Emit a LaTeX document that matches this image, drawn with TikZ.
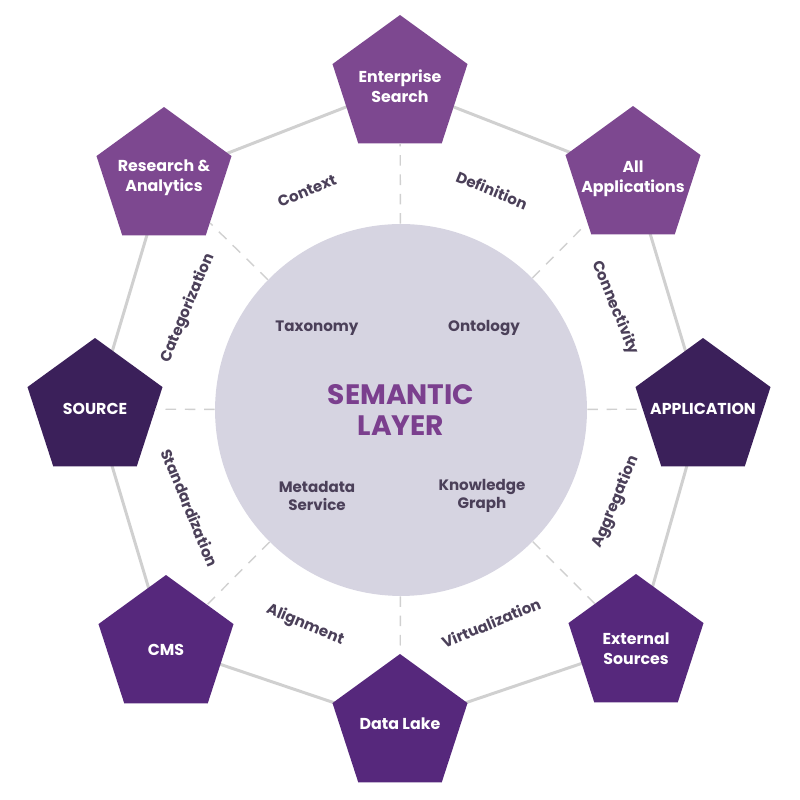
\documentclass[tikz,border=0pt]{standalone}
\usepackage{fontspec}
\setmainfont{Poppins}
\usetikzlibrary{shapes.geometric,backgrounds}

\definecolor{lightPurple}{HTML}{7D4890}
\definecolor{darkPurple}{HTML}{3B205A}
\definecolor{midPurple}{HTML}{56287C}
\definecolor{layerFill}{HTML}{D6D4E1}
\definecolor{labelGray}{HTML}{4B4059}
\definecolor{titlePurple}{HTML}{7B3F8E}
\definecolor{ringGray}{HTML}{D0D0D0}

\begin{document}
\begin{tikzpicture}[x=0.02cm,y=0.02cm,
	    PentBlock/.style= {
	        regular polygon, regular polygon sides=5,
	        minimum size=2.84cm, inner sep=0pt},
	    PentText/.style= {
	        text=white, align=center, inner sep=0pt,
	        font=\fontsize{9}{11.5}\selectfont\bfseries},
	    LayerCircle/.style= {
	        circle, fill=layerFill, minimum size=7.44cm, inner sep=0pt},
	    ArcLabel/.style= {
	        text=labelGray, font=\fontsize{8.6}{10}\selectfont\bfseries},
	    InnerLabel/.style= {
	        text=labelGray, align=center,
	        font=\fontsize{8.6}{10}\selectfont\bfseries},
	    RingLine/.style= {draw=ringGray, line width=1.7pt},
	    SpokeLine/.style= {draw=ringGray, line width=0.8pt,
	        dash pattern=on 6pt off 5pt}]

		\useasboundingbox (0,0) rectangle (800,800);

		% Semantic layer
		\node [LayerCircle] (sem) at (401,390) {};
		\node [text=titlePurple, align=center,
		       font=\fontsize{16}{17.5}\selectfont\bfseries] (title) at (sem) {SEMANTIC\\LAYER};

		% Blocks
		\node [PentBlock,fill=lightPurple] (ent) at (400,714) {};
		\node [PentBlock,fill=lightPurple] (allapp) at (633,623) {};
		\node [PentBlock,fill=darkPurple] (app) at (703,391) {};
		\node [PentBlock,fill=midPurple] (ext) at (636,155) {};
		\node [PentBlock,fill=midPurple] (lake) at (400,75) {};
		\node [PentBlock,fill=midPurple] (cms) at (166,154) {};
		\node [PentBlock,fill=darkPurple] (src) at (95,391) {};
		\node [PentBlock,fill=lightPurple] (res) at (164,622) {};

		% Block texts
		\node [PentText] (entText) at (ent) {Enterprise\\Search};
		\node [PentText] (allappText) at ([yshift=-1]allapp) {All\\Applications};
		\node [PentText] (appText) at (app) {APPLICATION};
		\node [PentText] (extText) at ([yshift=-2]ext) {External\\Sources};
		\node [PentText] (lakeText) at ([yshift=1]lake) {Data Lake};
		\node [PentText] (cmsText) at ([yshift=-2]cms) {CMS};
		\node [PentText] (srcText) at (src) {SOURCE};
		\node [PentText] (resText) at (res) {Research \&\\Analytics};

		% Ring
		\begin{scope}[on background layer]
		\draw[RingLine] (ent.center) -- (allapp.center) -- (app.center) -- (ext.center)
		    -- (lake.center) -- (cms.center) -- (src.center) -- (res.center) -- cycle;
		\end{scope}

		% Spokes
		\draw[SpokeLine]
		    (sem) edge (ent)
		    (sem) edge (allapp)
		    (sem) edge (app)
		    (sem) edge (ext)
		    (sem) edge (lake)
		    (sem) edge (cms)
		    (sem) edge (src)
		    (sem) edge (res);

		% Inner labels
		\node[InnerLabel] (tax) at (317,472) {Taxonomy};
		\node[InnerLabel] (onto) at (484,472) {Ontology};
		\node[InnerLabel] (meta) at (317,304) {Metadata\\Service};
		\node[InnerLabel] (kg) at (482,304) {Knowledge\\Graph};

		% Arc labels
		\node[ArcLabel,rotate=22.5] (ctx) at (307,609) {Context};
		\node[ArcLabel,rotate=-22.5] (defn) at (492,610) {Definition};
		\node[ArcLabel,rotate=-67.5] (conn) at (615,492) {Connectivity};
		\node[ArcLabel,rotate=67.5] (aggr) at (616,298) {Aggregation};
		\node[ArcLabel,rotate=22.5] (virt) at (491,177) {Virtualization};
		\node[ArcLabel,rotate=-22.5] (align) at (305,175) {Alignment};
		\node[ArcLabel,rotate=-67.5] (stand) at (190,292) {Standardization};
		\node[ArcLabel,rotate=67.5] (categ) at (188,492) {Categorization};

	\end{tikzpicture}
\end{document}
